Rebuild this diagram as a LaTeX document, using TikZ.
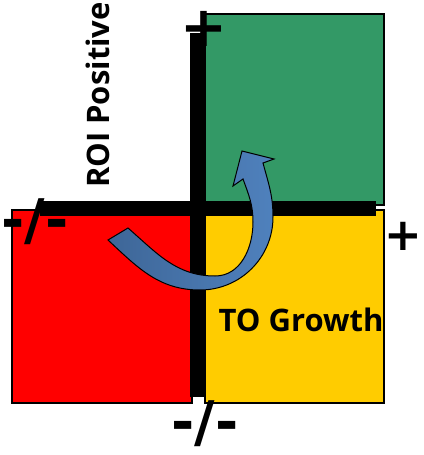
\documentclass[tikz,border=0pt]{standalone}
\usepackage{fontspec}
\setmainfont{Open Sans}
\newfontfamily\signfont{DejaVu Sans}
\definecolor{quadred}{HTML}{FF0000}
\definecolor{quadyellow}{HTML}{FFCC00}
\definecolor{quadgreen}{HTML}{339966}
\definecolor{arrowdark}{HTML}{3E6697}
\definecolor{arrowlight}{HTML}{4F81BD}

\begin{document}
\begin{tikzpicture}[
    x=1pt, y=-1pt,
    quad/.style={draw, line width=1.5pt},
    axisbar/.style={fill=black},
    sign/.style={font=\signfont\bfseries\fontsize{56}{56}\selectfont, inner sep=0pt},
    caption/.style={font=\bfseries\fontsize{31}{31}\selectfont, inner sep=0pt},
    turn/.style={draw, line width=1pt, left color=arrowdark, right color=arrowlight}
]
\useasboundingbox (0,0) rectangle (423,455);
\draw[quad, fill=quadgreen] (205,14) rectangle (384,205);
\draw[quad, fill=quadred] (12,210) rectangle (192,403);
\draw[quad, fill=quadyellow] (205,210) rectangle (384,403);
\fill[axisbar] (190,33) rectangle (206,397);
\fill[axisbar] (40,201) rectangle (376,216);
\draw[turn] (108,240) to[out=-43,in=180] (200,290) to[out=0,in=-90] (273,217)
    to[out=90,in=-75] (263,163) -- (274,159) -- (242,151) -- (233,186) -- (243,179)
    to[out=-70,in=90] (253,222) to[out=-90,in=0] (215,276) to[out=180,in=-41] (128,228) -- cycle;
\node[sign] (plustop) at (204,29) {+};
\node[sign, font=\signfont\bfseries\fontsize{45}{45}\selectfont] (plusright) at (403,236) {+};
\node[sign] (minusleft) at (35,222) {-/-};
\node[sign] (minusbottom) at (205,424) {-/-};
\node[caption, rotate=90] (roi) at (98,95) {ROI Positive};
\node[caption] (growth) at (301,320) {TO Growth};
\end{tikzpicture}
\end{document}
